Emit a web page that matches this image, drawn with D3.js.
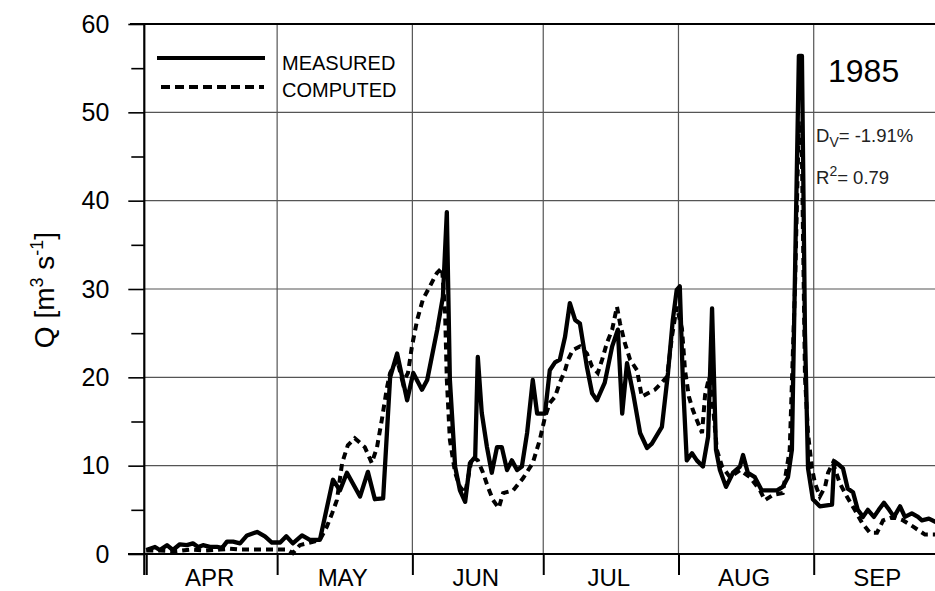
<!DOCTYPE html>
<html><head><meta charset="utf-8">
<script src="https://cdn.jsdelivr.net/npm/d3@7"></script>
<style>body{margin:0;background:#fff} svg{display:block}</style>
</head><body>
<svg id="c" width="935" height="591"></svg>
<script>
// Day index: 0 = 1 April 1985
const months = ["APR","MAY","JUN","JUL","AUG","SEP"];
const monthStarts = [0,30,61,91,122,153,183];
const yTicks = [0,10,20,30,40,50,60];
const yMinor = [5,15,25,35,45,55];

const measuredDays = [0,2,3.1,4.75,6.1,7.7,9.3,10.7,11.9,13,14.6,16.2,17.4,18.5,19.9,21.5,23.1,25.4,27.2,28.8,30.7,32.1,33.6,35.7,37.5,39.8,
 42.8,44.4,46,49,50.8,52.4,54.3,55.9,57.5,59.8,61.2,63.2,64.4,66.7,68,68.9,69.6,70.8,71.9,73.1,74.2,75.4,76,76.9,78.1,79.2,80.4,81.5,82.7,83.8,85,86.1,87.3,88.6,89.6,
 91.4,92.5,93.7,94.8,96,97.1,98.3,99.4,101,102.2,103.3,105.1,106.8,108.1,109.1,110.2,111.6,113.2,114.8,115.9,118.2,119.6,120.7,121.6,122.3,123,123.9,125.1,126.2,127.6,128.8,129.7,130.6,131.5,132.9,134.5,136.1,136.8,137.9,139.5,141.1,143,144.6,145.9,147.1,148,148.9,149.6,150.3,151,151.7,152.8,154.4,157.2,157.7,158.8,159.7,160.8,162,163.1,164.3,165.4,166.8,167.9,169.1,170.3,171.4,172.8,173.9,175.5,176.9,177.8,179.4,181,182.2];
const measuredQ = [0.45,0.8,0.45,1.0,0.45,1.1,1.0,1.2,0.8,1.0,0.8,0.8,0.7,1.4,1.4,1.2,2.1,2.5,2.0,1.3,1.3,2.0,1.2,2.1,1.6,1.6,
 8.4,7.2,9.2,6.5,9.3,6.2,6.3,20,22.7,17.4,20.5,18.6,19.7,25.4,29.1,38.7,19.7,9.9,7.2,5.9,10.3,11.0,22.3,16,12.1,9.2,12.1,12.1,9.5,10.6,9.5,9.9,13.7,19.7,15.9,
 15.9,20.8,21.7,22,24.6,28.4,26.5,26.1,21.2,18.2,17.4,19.4,23.5,25.4,15.9,21.6,18.2,13.7,12.0,12.5,14.4,20.5,26.5,29.9,30.3,19.7,10.6,11.4,10.6,9.9,13.3,27.8,11.8,9.5,7.6,9.2,9.9,11.2,9.2,8.7,7.2,7.2,7.2,7.6,8.7,11.8,37,56.4,56.4,25,9.7,6.2,5.4,5.6,10.5,10.1,9.7,7.4,7.0,5.0,4.2,5.0,4.2,5.0,5.8,5.0,4.2,5.4,4.2,4.6,4.2,3.8,4.0,3.6,3.6];

const computedDays = [0,3.1,6.6,10,13.5,16.9,19.2,21.5,23.8,27.2,30.7,32.3,33.6,35.2,36.8,39.8,41.4,42.6,43.7,44.9,46.2,47.8,50.1,51.7,52.9,54,55.2,55.9,57.5,58.8,60,60.9,62.1,63.4,65,66.6,67.8,68.5,68.9,69.6,70.8,71.9,73.1,74.7,76,77.2,78.3,79.5,80.8,81.8,84.1,86.4,88.6,
 90.2,91.4,92.5,93.7,94.8,96,96.7,97.8,99.4,101,102.2,103.5,104.5,105.6,106.8,107.9,108.6,109.7,110.9,112.5,113.6,115,116.6,118.2,119.4,120.5,121.6,122.8,123.5,124.4,125.3,126.5,127.4,128.1,129,129.9,130.8,132,133.8,136.1,138.4,140.7,141.8,143.7,145.9,147.5,148.7,149.6,150.3,151,151.7,152.6,153.3,154.4,155.6,156.3,157.4,159,160.6,162.4,164.1,165.9,167.5,168.9,171.2,173.5,175.8,178.5,182.2];
const computedQ = [0.4,0.4,0.3,0.5,0.4,0.5,0.6,0.5,0.5,0.5,0.5,0.5,0.1,1.0,1.2,1.6,3.1,4.6,6.1,10.3,12.3,13.1,12.1,10.3,12.1,15.2,18.9,20.5,22,19.4,20.5,23.5,26.5,28.8,30.3,31.8,32.4,27.3,19.7,12.9,9.2,7.6,6.9,11.0,10.6,9.2,7.6,6.1,5.2,6.9,7.2,8.6,10.3,
 12.9,15.5,17.1,17.8,19.4,20.8,22,23.1,23.5,22.7,21.2,20.5,22,23.9,25.4,28,26.1,23.9,22,20.8,17.8,18.2,18.6,19.4,20.1,24.6,28,25.5,20.8,17.8,16.3,14.8,13.7,18,20,16.8,11.8,9.9,8.7,9.5,8.7,7.2,6.1,6.7,6.9,11.8,30,49,45,20,13.6,9.7,8.0,6.5,7.6,9.2,10.3,8.0,6.5,5.0,3.5,2.4,2.4,3.8,4.2,3.8,3.1,2.2,2.2];

const FONT = "'Liberation Sans', Arial, Helvetica, sans-serif";
const svg = d3.select("#c");
const x = d3.scaleLinear().domain([-0.45, 183]).range([144.3, 144.3 + 183.45 * 4.3624]);
const y = d3.scaleLinear().domain([0, 60]).range([554, 24]);
const left = x.range()[0];

// horizontal grid
svg.append("g").selectAll("line").data(yTicks.filter(v => v > 0 && v < 60)).join("line")
  .attr("x1", left).attr("x2", 935).attr("y1", d => y(d)).attr("y2", d => y(d))
  .attr("stroke", "#555").attr("stroke-width", 1.2);
// vertical month grid
svg.append("g").selectAll("line").data(monthStarts.slice(1, 6)).join("line")
  .attr("x1", d => x(d)).attr("x2", d => x(d)).attr("y1", y(60)).attr("y2", y(0))
  .attr("stroke", "#555").attr("stroke-width", 1.2);

// top frame line
svg.append("line").attr("x1", 130).attr("x2", 935).attr("y1", y(60)).attr("y2", y(60))
  .attr("stroke", "#000").attr("stroke-width", 2);

// y axis
const yAxis = svg.append("g").attr("transform", `translate(${left},0)`)
  .call(d3.axisLeft(y).tickValues(yTicks).tickSize(16).tickPadding(19).tickFormat(d3.format("d")));
yAxis.select(".domain").remove();
yAxis.selectAll(".tick line").attr("stroke", "#000").attr("stroke-width", 1.6);
yAxis.selectAll(".tick text").attr("font-family", FONT).attr("font-size", 25).attr("fill", "#000");
const yMinorAxis = svg.append("g").attr("transform", `translate(${left},0)`)
  .call(d3.axisLeft(y).tickValues(yMinor).tickSize(13).tickFormat(""));
yMinorAxis.select(".domain").remove();
yMinorAxis.selectAll(".tick line").attr("stroke", "#000").attr("stroke-width", 1.6);

// x axis (month boundaries)
const xAxis = svg.append("g").attr("transform", `translate(0,${y(0)})`)
  .call(d3.axisBottom(x).tickValues(monthStarts.slice(0, 6)).tickSize(21).tickFormat(""));
xAxis.select(".domain").remove();
xAxis.selectAll(".tick line").attr("stroke", "#000").attr("stroke-width", 2);
svg.append("line").attr("x1", 128).attr("x2", 935).attr("y1", y(0)).attr("y2", y(0))
  .attr("stroke", "#000").attr("stroke-width", 2);
svg.append("line").attr("x1", left).attr("x2", left).attr("y1", y(60)).attr("y2", y(0) + 21)
  .attr("stroke", "#000").attr("stroke-width", 2.2);

svg.append("g").selectAll("text").data(months).join("text")
  .attr("x", (d, i) => (x(monthStarts[i]) + x(monthStarts[i + 1])) / 2 - 2)
  .attr("y", 586)
  .attr("text-anchor", "middle").attr("font-family", FONT).attr("font-size", 24).attr("fill", "#000")
  .text(d => d);

// y title
const yt = svg.append("text").attr("transform", "translate(54,290) rotate(-90)")
  .attr("text-anchor", "middle").attr("font-family", FONT).attr("font-size", 28).attr("fill", "#000");
yt.append("tspan").text("Q [m");
yt.append("tspan").attr("font-size", 18).attr("dy", -11).text("3");
yt.append("tspan").attr("dy", 11).text(" s");
yt.append("tspan").attr("font-size", 18).attr("dy", -11).text("-1");
yt.append("tspan").attr("dy", 11).text("]");

// data lines
const line = d3.line().x(d => x(d[0])).y(d => y(d[1]));
const measured = measuredDays.map((d, i) => [d, measuredQ[i]]);
const computed = computedDays.map((d, i) => [d, computedQ[i]]);
svg.append("path").datum(computed).attr("d", line).attr("fill", "none")
  .attr("stroke", "#000").attr("stroke-width", 4).attr("stroke-dasharray", "7,5");
svg.append("path").datum(measured).attr("d", line).attr("fill", "none")
  .attr("stroke", "#000").attr("stroke-width", 4.3).attr("stroke-linejoin", "round");

// legend
svg.append("line").attr("x1", 157).attr("x2", 265).attr("y1", 58).attr("y2", 58)
  .attr("stroke", "#000").attr("stroke-width", 4);
svg.append("line").attr("x1", 161).attr("x2", 264).attr("y1", 87).attr("y2", 87)
  .attr("stroke", "#000").attr("stroke-width", 4).attr("stroke-dasharray", "9,5");
svg.append("text").attr("x", 282).attr("y", 70).attr("font-family", FONT).attr("font-size", 20).text("MEASURED");
svg.append("text").attr("x", 282).attr("y", 97).attr("font-family", FONT).attr("font-size", 20).text("COMPUTED");

// annotations
svg.append("text").attr("x", 828).attr("y", 82).attr("font-family", FONT).attr("font-size", 32).text("1985");
const dv = svg.append("text").attr("x", 816).attr("y", 142).attr("font-family", FONT).attr("font-size", 18.5).attr("fill", "#222");
dv.append("tspan").text("D");
dv.append("tspan").attr("font-size", 14).attr("dy", 5).text("V");
dv.append("tspan").attr("dy", -5).text("= -1.91%");
const r2 = svg.append("text").attr("x", 816).attr("y", 184).attr("font-family", FONT).attr("font-size", 18.5).attr("fill", "#222");
r2.append("tspan").text("R");
r2.append("tspan").attr("font-size", 14).attr("dy", -8).text("2");
r2.append("tspan").attr("dy", 8).text("= 0.79");
</script>
</body></html>
